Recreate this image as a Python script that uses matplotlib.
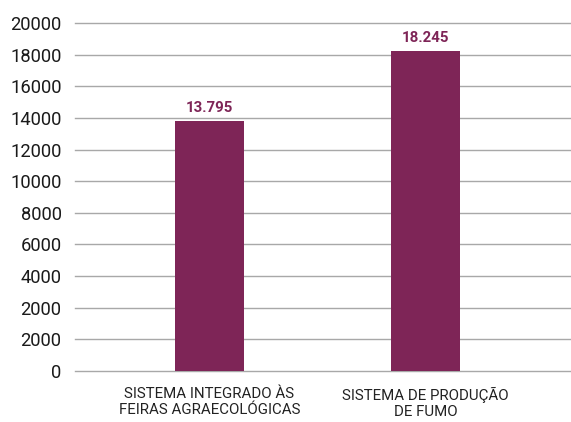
import matplotlib.pyplot as plt

categorias = ['SISTEMA INTEGRADO ÀS\nFEIRAS AGRAECOLÓGICAS', 'SISTEMA DE PRODUÇÃO\nDE FUMO']
valores = [13795, 18245]
rotulos = ['13.795', '18.245']
# o eixo original repete o "2000"
ticks = [-2000, 0, 2000, 4000, 6000, 8000, 10000, 12000, 14000, 16000, 18000, 20000]
ticks_txt = ['0', '2000', '2000', '4000', '6000', '8000', '10000', '12000',
             '14000', '16000', '18000', '20000']
base = -2000
cor = '#7E2557'

plt.rcParams['font.family'] = ['Roboto', 'DejaVu Sans']

fig = plt.figure(figsize=(5.71, 4.22), dpi=100)
ax = fig.add_axes([0.131, 0.1216, 0.869, 0.8232])

x = range(len(valores))
ax.bar(x, [v - base for v in valores], bottom=base, width=0.32, color=cor, zorder=3)
for i, v in enumerate(valores):
    ax.text(i, v + 560, rotulos[i], ha='center', va='baseline',
            fontsize=10.8, fontweight='bold', color=cor)

ax.set_xlim(-0.623, 1.674)
ax.set_ylim(base, 20000)
ax.set_yticks(ticks)
ax.set_yticklabels(ticks_txt)
ax.set_xticks(list(x))
ax.set_xticklabels(categorias, fontsize=10.8, color='#222222', linespacing=1.15)
ax.tick_params(axis='y', labelsize=13.2, length=0, pad=9.5, labelcolor='#1a1a1a')
ax.tick_params(axis='x', length=0, pad=12)
ax.yaxis.grid(True, color='#a8a8a8', linewidth=1, zorder=0)
for linha in ax.get_ygridlines():
    linha.set_clip_on(False)
for s in ax.spines.values():
    s.set_visible(False)

fig.savefig('out.png', dpi=100)
